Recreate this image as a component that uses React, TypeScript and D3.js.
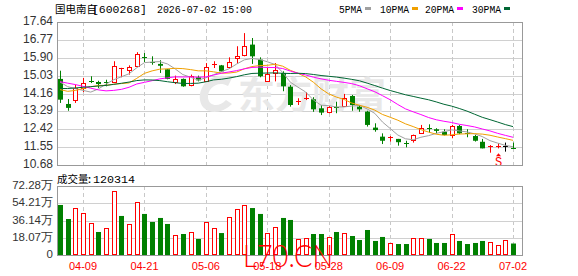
import React from 'react';
import * as d3 from 'd3';

// ---- data ----
const dates = [
  '04-03','04-07','04-08','04-09','04-10','04-13','04-14','04-15','04-16','04-17',
  '04-20','04-21','04-22','04-23','04-24','04-27','04-28','04-29','04-30','05-06',
  '05-07','05-08','05-11','05-12','05-13','05-14','05-15','05-18','05-19','05-20',
  '05-21','05-22','05-25','05-26','05-27','05-28','05-29','06-01','06-02','06-03',
  '06-04','06-05','06-08','06-09','06-10','06-11','06-12','06-15','06-16','06-17',
  '06-18','06-22','06-23','06-24','06-25','06-26','06-29','06-30','07-01','07-02'
];
const opens = [
  14.87,13.65,13.86,14.43,14.78,14.72,14.70,14.71,15.38,15.32,
  15.48,15.96,15.68,15.60,15.34,14.75,14.87,14.56,14.95,14.78,
  15.58,15.53,15.44,15.85,16.02,16.54,15.81,14.78,15.19,15.16,
  14.49,13.74,13.91,13.88,13.44,13.27,13.52,13.57,14.04,13.52,
  13.28,12.50,12.06,11.99,11.95,11.76,11.90,12.22,12.47,12.42,
  12.30,12.14,12.58,12.22,12.09,11.81,11.55,11.60,11.62,11.53
];
const highs = [
  15.27,13.89,14.59,14.92,15.00,14.78,14.83,15.73,15.41,15.53,
  16.17,16.13,15.97,15.78,15.36,15.03,14.89,15.08,15.03,15.64,
  15.73,15.55,15.92,16.46,17.10,16.86,15.92,15.40,15.64,15.24,
  14.57,13.93,14.22,13.98,13.60,13.55,13.76,14.14,14.09,13.60,
  13.32,12.71,12.22,12.09,11.95,11.86,12.16,12.63,12.66,12.47,
  12.42,12.63,12.63,12.42,12.14,11.95,11.65,11.74,11.77,11.77
];
const lows = [
  13.70,13.32,13.70,14.23,14.67,14.43,14.51,14.67,14.95,15.08,
  15.45,15.69,15.56,15.16,14.85,14.62,14.49,14.51,14.75,14.75,
  15.40,15.22,15.40,15.60,15.97,15.60,14.95,14.75,14.75,14.27,
  13.52,13.60,13.84,13.27,13.11,13.20,13.20,13.52,13.32,13.27,
  12.55,12.30,11.70,11.82,11.62,11.54,11.77,12.20,12.25,12.22,
  12.12,11.98,12.18,12.03,11.82,11.49,11.28,11.49,11.33,11.51
];
const closes = [
  13.86,13.46,14.43,14.67,14.72,14.62,14.66,15.48,15.40,15.45,
  16.08,15.90,15.63,15.51,14.87,14.88,14.51,15.00,14.80,15.44,
  15.62,15.24,15.69,15.97,16.46,15.97,15.00,15.12,15.32,14.51,
  13.60,13.78,13.95,13.39,13.23,13.49,13.47,13.96,13.60,13.39,
  12.63,12.38,11.86,12.03,11.79,11.72,12.14,12.47,12.42,12.34,
  12.14,12.58,12.22,12.17,11.86,11.49,11.59,11.62,11.62,11.52
];
// volume in 手
const volumes = [
  524000,377000,489000,437000,332000,241000,279000,667000,409000,325000,
  552000,430000,346000,388000,325000,206000,220000,238000,168000,342000,
  279000,230000,395000,479000,521000,492000,430000,227000,290000,388000,
  367000,164000,175000,220000,220000,185000,241000,227000,199000,157000,
  262000,147000,189000,122000,115000,115000,175000,175000,168000,126000,
  126000,217000,147000,115000,126000,147000,136000,102000,154000,120314
];
// closes of the 29 sessions before 04-03 (estimated from the moving-average lines)
const priorCloses = [
  13.5,13.6,13.7,13.8,13.7,13.8,13.9,13.8,13.7,13.9,
  14.9,15.8,16.4,16.5,16.3,15.6,15.0,14.4,13.4,12.9,
  14.3,14.0,13.8,13.8,14.0,14.6,14.9,15.1,15.14
];
const priceTicks = [10.68, 11.55, 12.42, 13.29, 14.16, 15.03, 15.90, 16.77, 17.64];
const volumeTicks = [0, 180700, 361400, 542100, 722800];
const volumeTickLabels = ['0', '18.07万', '36.14万', '54.21万', '72.28万'];
const xTickDates = ['04-09', '04-21', '05-06', '05-18', '05-28', '06-09', '06-22', '07-02'];
const maPeriods = [5, 10, 20, 30];
const maNames = ['5PMA', '10PMA', '20PMA', '30PMA'];
const maColors = ['#a0a0a0', '#f0a000', '#ff00ff', '#006633'];
const markerIndex = 57;
const stockTitle = '国电南自';
const stockCode = '[600268]';
const stockTime = '2026-07-02 15:00';

const RED = '#ff0000';
const GREEN = '#008000';

export default function App() {
  const left = 57, right = 522;
  const mainTop = 22, mainBottom = 165;
  const volTop = 186, volBottom = 255;

  const x = d3.scalePoint<string>().domain(dates).range([60, 513]);
  const y = d3.scaleLinear().domain([10.68, 17.64]).range([mainBottom, mainTop]);
  const yv = d3.scaleLinear().domain([0, 722800]).range([volBottom, volTop]);

  const all = priorCloses.concat(closes);
  const off = priorCloses.length;
  const maSeries = maPeriods.map((n) =>
    closes.map((_, i) => d3.mean(all.slice(i + off - n + 1, i + off + 1)) as number)
  );
  const line = d3
    .line<number>()
    .x((_, i) => x(dates[i]) as number)
    .y((d) => y(d));

  const cx = (i: number) => Math.round(x(dates[i]) as number);

  const mono = "'Liberation Mono', 'DejaVu Sans Mono', monospace";
  const cjk = "'Noto Sans CJK SC', sans-serif";
  const sans = "'Liberation Sans', Arial, sans-serif";

  return (
    <svg
      width={578}
      height={276}
      style={{ position: 'absolute', left: 0, top: 0, display: 'block', background: '#fff' }}
    >
      <rect x={0} y={0} width={578} height={276} fill="#fff" />
      {/* title */}
      <text y={13} fontSize={10.5} fill="#000">
        <tspan x={55} fontFamily={cjk}>{stockTitle}</tspan>
        <tspan x={92} fontFamily={mono} textLength={55} lengthAdjust="spacingAndGlyphs">{stockCode}</tspan>
        <tspan x={157} fontFamily={mono} textLength={95} lengthAdjust="spacingAndGlyphs">{stockTime}</tspan>
      </text>
      {/* legend */}
      {maNames.map((name, k) => {
        const lx = [339, 380, 425, 472][k];
        const w = name.length * 6;
        return (
          <g key={name}>
            <text x={lx} y={12.5} fontFamily={mono} fontSize={10.5} fill="#000" textLength={w - 1} lengthAdjust="spacingAndGlyphs">
              {name}
            </text>
            <rect x={lx + w + 2} y={7} width={6} height={3} fill={maColors[k]} />
          </g>
        );
      })}

      {/* main grid */}
      {priceTicks.map((t) => (
        <g key={'p' + t}>
          <line x1={left} x2={right} y1={Math.round(y(t)) + 0.5} y2={Math.round(y(t)) + 0.5} stroke="#d0d0d0" />
          <text x={53} y={y(t) + 3} textAnchor="end" fontFamily={sans} fontSize={12} fill="#333">
            {t.toFixed(2)}
          </text>
        </g>
      ))}
      {xTickDates.map((d) => (
        <g key={'v' + d}>
          <line x1={cx(dates.indexOf(d)) + 0.5} x2={cx(dates.indexOf(d)) + 0.5} y1={mainTop} y2={mainBottom} stroke="#c8c8c8" strokeDasharray="4,3" />
          <line x1={cx(dates.indexOf(d)) + 0.5} x2={cx(dates.indexOf(d)) + 0.5} y1={volTop} y2={volBottom} stroke="#c8c8c8" strokeDasharray="4,3" />
          <text x={x(d) as number} y={270} textAnchor="middle" fontFamily={sans} fontSize={11} fill={RED}>
            {d}
          </text>
        </g>
      ))}

      {/* watermark */}
      <g fill="#e8e8e8">
        <path d="M232,78 C214,70 198,84 200,100 C202,114 220,116 232,104 L226,100 C219,108 209,106 208,98 C207,88 218,80 228,86 Z" />
        <text x={238} y={109} fontFamily={cjk} fontWeight={700} fontSize={37} fill="#e8e8e8">东方财富</text>
      </g>

      {/* candles */}
      {dates.map((d, i) => {
        const o = opens[i], c = closes[i];
        const X = cx(i);
        const color = c > o ? RED : c < o ? GREEN : '#000';
        const yTop = y(Math.max(o, c));
        const yBot = y(Math.min(o, c));
        const h = yBot - yTop;
        return (
          <g key={'c' + d}>
            <line x1={X + 0.5} x2={X + 0.5} y1={y(highs[i])} y2={y(lows[i])} stroke={color} />
            {h < 1.5 ? (
              <line x1={X - 2} x2={X + 3} y1={Math.round(yTop) + 0.5} y2={Math.round(yTop) + 0.5} stroke={color} />
            ) : c > o ? (
              <rect x={X - 1.5} y={Math.round(yTop) + 0.5} width={4} height={Math.round(h)} fill="#fff" stroke={RED} />
            ) : (
              <rect x={X - 2} y={yTop} width={5} height={h} fill={GREEN} />
            )}
          </g>
        );
      })}

      {/* moving averages */}
      {maSeries.map((s, k) => (
        <path key={'ma' + k} d={line(s) || ''} fill="none" stroke={maColors[k]} strokeWidth={1} />
      ))}

      {/* marker */}
      <path
        d={`M${cx(markerIndex) + 0.5},${y(lows[markerIndex]) + 5} l-2.5,3 h5 z`}
        fill={RED}
      />
      <text x={cx(markerIndex) + 0.5} y={166} textAnchor="middle" fontFamily={mono} fontSize={12} fill={RED}>S</text>

      {/* main frame */}
      <rect x={left + 0.5} y={mainTop + 0.5} width={right - left} height={mainBottom - mainTop} fill="none" stroke="#999" />

      {/* volume */}
      <text y={182.5} fontSize={10.5} fill="#000">
        <tspan x={57} fontFamily={cjk}>成交量</tspan>
        <tspan x={86} fontFamily={mono} textLength={49} lengthAdjust="spacingAndGlyphs">{':' + volumes[volumes.length - 1]}</tspan>
      </text>
      {volumeTicks.map((t, k) => (
        <g key={'vt' + t}>
          {k > 0 && k < volumeTicks.length - 1 && (
            <line x1={left} x2={right} y1={Math.round(yv(t)) + 0.5} y2={Math.round(yv(t)) + 0.5} stroke="#d0d0d0" />
          )}
          <text x={53} y={yv(t) + 3} textAnchor="end" fontFamily={sans} fontSize={11.5} fill="#333">
            {volumeTickLabels[k]}
          </text>
        </g>
      ))}
      {volumes.map((v, i) => {
        const prev = i === 0 ? priorCloses[priorCloses.length - 1] : closes[i - 1];
        const up = closes[i] >= prev;
        const X = cx(i);
        const top = yv(v);
        return up ? (
          <rect key={'vb' + i} x={X - 1.5} y={Math.round(top) + 0.5} width={4} height={volBottom - Math.round(top) - 1} fill="#fff" stroke={RED} />
        ) : (
          <rect key={'vb' + i} x={X - 2} y={top} width={5} height={volBottom - top} fill={GREEN} />
        );
      })}
      <rect x={left + 0.5} y={volTop + 0.5} width={right - left} height={volBottom - volTop} fill="none" stroke="#999" />

      {/* site watermark */}
      <text x={243} y={267} fontFamily="Lato, 'Noto Sans', sans-serif" fontWeight={300} fontSize={31} fill={RED} textLength={90} lengthAdjust="spacingAndGlyphs">
        L70.CN
      </text>
    </svg>
  );
}
